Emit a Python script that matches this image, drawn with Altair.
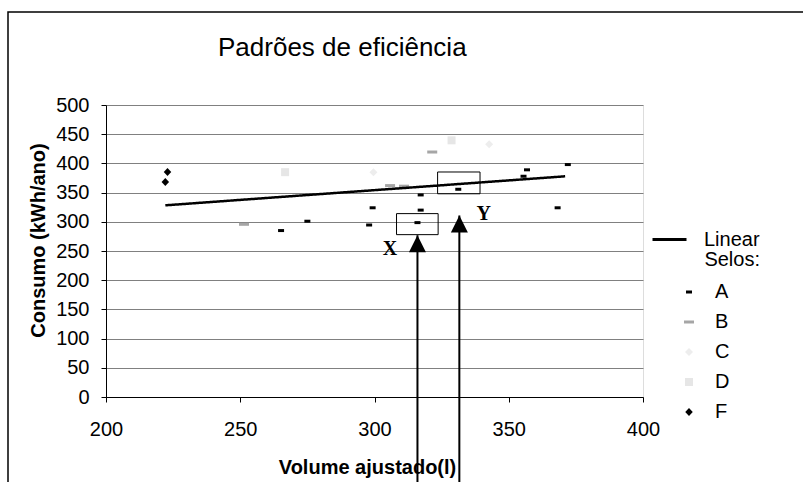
import altair as alt
import pandas as pd

# ---- data ----
a_x = [265.2, 275.0, 299.3, 298.0, 317.2, 317.2, 316.0, 331.2, 355.5, 356.8, 372.0, 368.2]
a_y = [285.0, 301.0, 324.0, 294.5, 346.0, 320.0, 298.6, 355.7, 378.0, 389.0, 398.0, 324.0]
b_x = [251.4, 305.8, 311.0, 321.5]
b_y = [295.7, 362.0, 361.0, 419.5]
c_x = [299.6, 342.7]
c_y = [385.0, 432.7]
d_x = [266.7, 328.7]
d_y = [385.0, 439.5]
f_x = [222.9, 222.1]
f_y = [385.3, 368.2]
selos = ["A", "B", "C", "D", "F"]

trend_x = [222.1, 371.0]
trend_y = [328.2, 377.9]

box_names = ["X", "Y"]
box_x1 = [308.2, 323.5]
box_x2 = [323.7, 339.3]
box_y1 = [278.0, 348.0]
box_y2 = [314.0, 385.3]

arrow_x = [316.0, 331.6]
arrow_tip = [277.0, 311.0]
label_x = [305.8, 340.7]
label_y = [254.0, 313.3]

x_ticks = [200, 250, 300, 350, 400]
y_ticks = [0, 50, 100, 150, 200, 250, 300, 350, 400, 450, 500]

# ---- tables ----
rows = []
for s, xs, ys in zip(selos, [a_x, b_x, c_x, d_x, f_x], [a_y, b_y, c_y, d_y, f_y]):
    for xv, yv in zip(xs, ys):
        rows.append({"x": xv, "y": yv, "selo": s})
pts = pd.DataFrame(rows)
trend = pd.DataFrame({"x": trend_x, "y": trend_y, "serie": ["Linear"] * 2})
boxes = pd.DataFrame({"x": box_x1, "x2": box_x2, "y": box_y1, "y2": box_y2, "nome": box_names})
arrows = pd.DataFrame({"x": arrow_x, "y": arrow_tip, "nome": box_names})
labels = pd.DataFrame({"x": label_x, "y": label_y, "label": box_names})
one = pd.DataFrame({"k": [0]})

FONT = "Liberation Sans"

x_axis = alt.Axis(values=x_ticks, title="Volume ajustado(l)", grid=False, tickSize=5,
                  tickColor="black", domainColor="black", labelColor="black",
                  labelFont=FONT, labelFontSize=20, labelPadding=33, labelBaseline="alphabetic",
                  titleFont=FONT, titleFontSize=20, titleFontWeight="bold", titleColor="black",
                  titleX=261, titleY=76, titleBaseline="alphabetic", titleAlign="center",
                  labelFlush=False, labelOverlap=False, format="d")
y_axis = alt.Axis(values=y_ticks, title="Consumo (kWh/ano)", grid=True, gridColor="#808080",
                  gridWidth=1, tickSize=5, tickColor="black", domainColor="black",
                  labelColor="black", labelFont=FONT, labelFontSize=20, labelPadding=12,
                  titleFont=FONT, titleFontSize=20, titleFontWeight="bold", titleColor="black",
                  titleX=-62, titleY=135, titleAngle=270, titleBaseline="alphabetic",
                  titleAlign="center", labelFlush=False, labelOverlap=False, format="d")

x_scale = alt.Scale(domain=[200, 400], nice=False, zero=False)
y_scale = alt.Scale(domain=[0, 500], nice=False, zero=False)
X = alt.X("x:Q", scale=x_scale, axis=x_axis)
Y = alt.Y("y:Q", scale=y_scale, axis=y_axis)

shape_paths = [
    "M-0.6,-0.3L0.6,-0.3L0.6,0.3L-0.6,0.3Z",
    "M-1,-0.3L1,-0.3L1,0.3L-1,0.3Z",
    "M0,-0.8L0.8,0L0,0.8L-0.8,0Z",
    "M-0.8,-0.8L0.8,-0.8L0.8,0.8L-0.8,0.8Z",
    "M0,-0.8L0.75,0L0,0.8L-0.75,0Z",
]
colors = ["#000000", "#a6a6a6", "#ededed", "#e6e6e6", "#000000"]

sel_legend = alt.Legend(title=None, orient="none", legendX=573, legendY=177, symbolSize=100,
                        symbolStrokeWidth=0, labelFont=FONT, labelFontSize=20,
                        labelColor="black", labelOffset=16, rowPadding=10, padding=0)

frame = alt.Chart(one).mark_rect(fillOpacity=0, stroke="black", strokeWidth=1.5).encode(
    x=alt.value(-98), x2=alt.value(720), y=alt.value(-93), y2=alt.value(400))

points = alt.Chart(pts).mark_point(filled=True, size=100, strokeWidth=0, opacity=1).encode(
    x=X, y=Y,
    color=alt.Color("selo:N", scale=alt.Scale(domain=selos, range=colors), legend=sel_legend),
    shape=alt.Shape("selo:N", scale=alt.Scale(domain=selos, range=shape_paths), legend=sel_legend),
)

line = alt.Chart(trend).mark_line(color="black", strokeWidth=2.5).encode(
    x=X, y=Y,
    strokeDash=alt.StrokeDash("serie:N", scale=alt.Scale(domain=["Linear"], range=[[1, 0]]),
                              legend=alt.Legend(title="Selos:", titleOrient="bottom",
                                                titleAnchor="end", orient="none",
                                                legendX=545, legendY=116, symbolType="stroke",
                                                symbolSize=1156, symbolStrokeWidth=3,
                                                symbolStrokeColor="black", labelFont=FONT,
                                                labelFontSize=20, labelColor="black",
                                                titleFont=FONT, titleFontSize=20,
                                                titleFontWeight="normal", titleColor="black",
                                                titlePadding=0, labelOffset=16, padding=0)),
)

rects = alt.Chart(boxes).mark_rect(fillOpacity=0, stroke="black", strokeWidth=1).encode(
    x=X, x2="x2:Q", y=Y, y2="y2:Q")

stems = alt.Chart(arrows).mark_rule(strokeWidth=2, color="black").encode(
    x=X, y=Y, y2=alt.value(400))

heads = alt.Chart(arrows).mark_point(shape="M0,0L0.5,1L-0.5,1Z", size=1156, filled=True,
                                     color="black", strokeWidth=0, opacity=1).encode(x=X, y=Y)

texts = alt.Chart(labels).mark_text(font="Liberation Serif", fontWeight="bold", fontSize=20,
                                    color="black", align="center", baseline="middle").encode(
    x=X, y=Y, text="label:N")

chart = alt.layer(frame, points, line, rects, stems, heads, texts).properties(
    width=537, height=292,
    autosize=alt.AutoSizeParams(type="none"),
    padding={"left": 106, "top": 105, "right": 160, "bottom": 85},
    title=alt.TitleParams("Padrões de eficiência", anchor="start", frame="group", dx=112, dy=71,
                          fontSize=26, fontWeight="normal", font=FONT, color="black", offset=0,
                          baseline="alphabetic"),
).configure_view(stroke="#808080", strokeWidth=1).configure(background="white")

chart.save("out.html", embed_options={"renderer": "svg", "actions": False})
